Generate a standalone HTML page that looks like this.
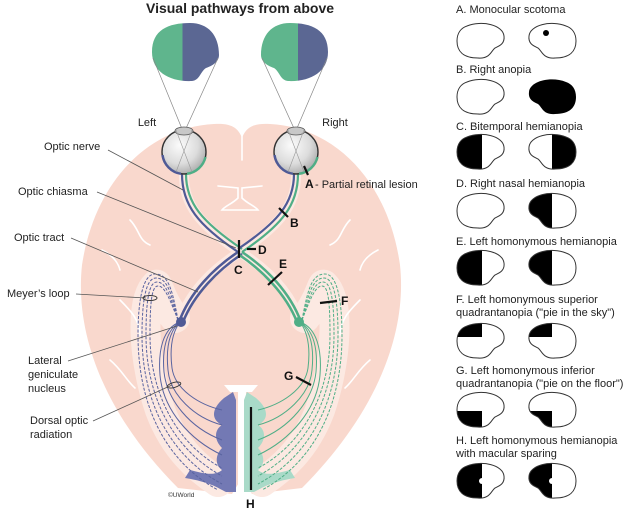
<!DOCTYPE html>
<html><head><meta charset="utf-8"><style>
html,body{margin:0;padding:0;background:#fff;}
svg{display:block;font-family:"Liberation Sans",Arial,sans-serif;}
</style></head><body>
<svg width="638" height="515" viewBox="0 0 638 515" xmlns="http://www.w3.org/2000/svg">
<defs>
<radialGradient id="eg" cx="0.4" cy="0.35" r="0.7"><stop offset="0" stop-color="#fbfbfb"/><stop offset="0.6" stop-color="#dcdcdc"/><stop offset="1" stop-color="#a9a9a9"/></radialGradient>
<path id="bean" d="M10,3 C25,-3 46,2 47,13 C48,21 42,23 38,25 C34,28 33,36 21,35 C6,35 0,28 0,18 C0,10 4,5 10,3 Z"/>
<clipPath id="cb"><use href="#bean"/></clipPath>
<clipPath id="cbm"><use href="#bean" transform="translate(48,0) scale(-1,1)"/></clipPath>
<g id="rad">
<g stroke-dasharray="3,1.5">
<path d="M178,320 C170,300 165,286 158,286 C152,286 150,300 150,335 C150,395 178,445 222,468"/>
<path d="M178,320 C170,296 166,282 157,282 C149,282 146,300 146,335 C146,398 174,450 222,476"/>
<path d="M178,320 C171,292 167,278 156,278 C146,278 142,300 142,335 C142,402 170,456 222,484"/>
<path d="M178,320 C172,288 168,274 155,274 C143,274 138,300 138,335 C138,406 166,462 218,490"/>
</g>
<path d="M180,322 C163,328 158,350 160,375 C163,410 190,440 222,455"/>
<path d="M180,322 C166,330 162,350 164,372 C167,400 190,428 222,440"/>
<path d="M180,322 C168,332 166,350 168,370 C170,395 195,418 222,425"/>
<path d="M180,322 C171,334 170,352 172,368 C175,390 200,405 222,410"/>
</g>
</defs>

<text x="240" y="13" font-size="14" font-weight="bold" text-anchor="middle" fill="#222">Visual pathways from above</text>

<path d="M242,138 C238,127 230,123 214,124 C150,127 95,180 82,265 C74,340 110,420 178,488 L232,494 L242,478 L252,494 L302,488 C370,420 408,340 400,265 C388,180 334,127 270,124 C254,123 246,127 242,138 Z" fill="#f9d8cd"/>
<g fill="none" stroke="#fce9e2" stroke-linecap="round">
<path d="M175,318 C160,300 158,282 156,285 C140,300 143,360 160,410 C175,450 200,470 218,482" stroke-width="30"/>
<path d="M305,318 C320,300 322,282 324,285 C340,300 337,360 320,410 C305,450 280,470 262,482" stroke-width="30"/>
<path d="M184,176 C184,205 200,225 240,252 C280,225 296,205 296,176" stroke-width="10"/>
<path d="M240,252 C215,268 190,290 180,322 M240,252 C265,268 290,290 300,322" stroke-width="10"/>
</g>
<g fill="none" stroke="#fff" stroke-width="1.6" stroke-linecap="round">
<path d="M242,126 L242,160"/>
<path d="M218,186 L238,188 L238,198 C232,204 225,206 222,210 L258,210 C255,206 248,204 242,198 L242,188 L262,186"/>
<path d="M130,220 C140,230 138,240 150,245 M120,300 C130,310 140,320 140,335 M110,360 C122,370 126,380 135,388 M102,250 C112,255 118,262 120,270"/>
<path d="M350,220 C340,230 342,240 330,245 M360,300 C350,310 340,320 340,335 M370,360 C358,370 354,380 345,388 M378,250 C368,255 362,262 360,270"/>
</g>
<path d="M224,385 L258,385 L252,392 L246,392 L246,490 L238,490 L238,392 L230,392 Z" fill="#fff"/>

<path d="M224,398 L233,392 L236,400 L236,492 L226,492 C218,488 210,482 185,478 L190,470 C205,474 215,476 222,470 C215,465 215,455 222,448 C214,440 214,430 222,425 C212,420 210,410 224,398 Z" fill="#7379b4"/>
<path d="M256,398 L247,392 L244,400 L244,492 L254,492 C262,488 270,482 295,478 L290,470 C275,474 265,476 258,470 C265,465 265,455 258,448 C266,440 266,430 258,425 C268,420 270,410 256,398 Z" fill="#a9dac8"/>

<g fill="none" stroke="#5a64a0" stroke-width="1"><use href="#rad"/></g>
<g fill="none" stroke="#4fae86" stroke-width="1" transform="translate(480,0) scale(-1,1)"><use href="#rad"/></g>

<g fill="none" stroke-width="2.2">
<path d="M182,174 C182,205 198,225 238,252" stroke="#4f5a96"/>
<path d="M186,174 C186,203 202,222 242,249" stroke="#4fae86"/>
<path d="M298,174 C298,205 282,225 242,252" stroke="#4fae86"/>
<path d="M294,174 C294,203 278,222 238,249" stroke="#4f5a96"/>
<path d="M238,252 C214,268 190,292 179,322" stroke="#4f5a96" stroke-width="2.5"/>
<path d="M242,254 C218,270 194,294 183,322" stroke="#4f5a96" stroke-width="2.5"/>
<path d="M242,252 C266,268 290,292 301,322" stroke="#4fae86" stroke-width="2.5"/>
<path d="M238,254 C262,270 286,294 297,322" stroke="#4fae86" stroke-width="2.5"/>
</g>
<circle cx="181" cy="322" r="5" fill="#4f5a96"/>
<circle cx="299" cy="322" r="5" fill="#4fae86"/>

<g>
<clipPath id="lf"><path d="M152,52 C152,30 168,23 190,23 C208,23 219,35 219,55 C219,62 212,66 206,68 C200,72 200,80 192,81 C170,82 152,72 152,52 Z"/></clipPath>
<g clip-path="url(#lf)"><rect x="150" y="20" width="32.5" height="65" fill="#5fb58d"/><rect x="182.5" y="20" width="40" height="65" fill="#5b6793"/></g>
<clipPath id="rf"><path d="M328,52 C328,30 312,23 290,23 C272,23 261,35 261,55 C261,62 268,66 274,68 C280,72 280,80 288,81 C310,82 328,72 328,52 Z"/></clipPath>
<g clip-path="url(#rf)"><rect x="258" y="20" width="40" height="65" fill="#5fb58d"/><rect x="298" y="20" width="35" height="65" fill="#5b6793"/></g>
</g>
<g stroke="#888" stroke-width="0.7" fill="none">
<path d="M153,58 L198,168 M218,58 L168,168"/>
<path d="M262,58 L312,168 M327,58 L280,168"/>
</g>

<g>
<circle cx="184" cy="152" r="22" fill="url(#eg)" stroke="#333" stroke-width="1.4"/>
<ellipse cx="184" cy="131" rx="9" ry="4" fill="#c8c8c8" stroke="#555" stroke-width="0.8"/>
<path d="M162.5,155 A22,22 0 0,0 181,173.8" stroke="#4f5a96" stroke-width="2.5" fill="none"/>
<path d="M187,173.8 A22,22 0 0,0 205.5,157" stroke="#4fae86" stroke-width="2.5" fill="none"/>
<circle cx="296" cy="152" r="22" fill="url(#eg)" stroke="#333" stroke-width="1.4"/>
<ellipse cx="296" cy="131" rx="9" ry="4" fill="#c8c8c8" stroke="#555" stroke-width="0.8"/>
<path d="M274.5,155 A22,22 0 0,0 293,173.8" stroke="#4f5a96" stroke-width="2.5" fill="none"/>
<path d="M299,173.8 A22,22 0 0,0 317.5,157" stroke="#4fae86" stroke-width="2.5" fill="none"/>
<g stroke="#999" stroke-width="0.6"><path d="M176,130 L192,172 M192,130 L176,172 M288,130 L304,172 M304,130 L288,172"/></g>
</g>
<text x="147" y="126" font-size="11" text-anchor="middle" fill="#222">Left</text>
<text x="335" y="126" font-size="11" text-anchor="middle" fill="#222">Right</text>

<g stroke="#555" stroke-width="0.8" fill="none">
<path d="M108,150 L183,190"/>
<path d="M97,192 L236,248"/>
<path d="M71,238 L198,292"/>
<path d="M76,294 L146,298"/>
<path d="M68,361 L177,326"/>
<path d="M93,421 L172,385"/>
</g>
<ellipse cx="150" cy="298" rx="7" ry="2.5" fill="none" stroke="#333" stroke-width="0.9"/>
<ellipse cx="174" cy="385" rx="7" ry="2.5" fill="none" stroke="#333" stroke-width="0.9" transform="rotate(-15 174 385)"/>
<g font-size="11" fill="#222">
<text x="44" y="150">Optic nerve</text>
<text x="18" y="195">Optic chiasma</text>
<text x="14" y="241">Optic tract</text>
<text x="7" y="297">Meyer’s loop</text>
<text x="28" y="364">Lateral</text>
<text x="28" y="378">geniculate</text>
<text x="28" y="392">nucleus</text>
<text x="30" y="424">Dorsal optic</text>
<text x="30" y="438">radiation</text>
</g>
<text x="168" y="497" font-size="6.5" fill="#333">©UWorld</text>

<g stroke="#111" stroke-width="2.2">
<path d="M304,166 L308,175"/>
<path d="M279,208 L288,217"/>
<path d="M239,240 L239,258"/>
<path d="M247,249 L256,249"/>
<path d="M268,285 L282,272"/>
<path d="M320,303 L337,301"/>
<path d="M296,377 L311,385"/>
<path d="M251,407 L251,490"/>
</g>
<g font-size="12" font-weight="bold" fill="#111">
<text x="305" y="188">A</text>
<text x="290" y="227">B</text>
<text x="234" y="274">C</text>
<text x="258" y="254">D</text>
<text x="279" y="268">E</text>
<text x="341" y="305">F</text>
<text x="284" y="380">G</text>
<text x="246" y="508">H</text>
</g>
<text x="315" y="188" font-size="11" fill="#222">- Partial retinal lesion</text>

<g font-size="11" fill="#222">
<text x="456" y="13">A. Monocular scotoma</text>
<text x="456" y="73">B. Right anopia</text>
<text x="456" y="130">C. Bitemporal hemianopia</text>
<text x="456" y="187">D. Right nasal hemianopia</text>
<text x="456" y="245">E. Left homonymous hemianopia</text>
<text x="456" y="303">F. Left homonymous superior</text>
<text x="456" y="316">quadrantanopia ("pie in the sky")</text>
<text x="456" y="374">G. Left homonymous inferior</text>
<text x="456" y="387">quadrantanopia ("pie on the floor")</text>
<text x="456" y="444">H. Left homonymous hemianopia</text>
<text x="456" y="457">with macular sparing</text>
</g>

<g transform="translate(457,23)"><use href="#bean" fill="#fff" stroke="#333" stroke-width="1"/></g>
<g transform="translate(528,23)"><use href="#bean" transform="translate(48,0) scale(-1,1)" fill="#fff" stroke="#333" stroke-width="1"/><circle cx="18" cy="10" r="3" fill="#000"/></g>
<g transform="translate(457,79)"><use href="#bean" fill="#fff" stroke="#333" stroke-width="1"/></g>
<g transform="translate(528,79)"><use href="#bean" transform="translate(48,0) scale(-1,1)" fill="#000"/></g>
<g transform="translate(457,134)"><g clip-path="url(#cb)"><rect x="0" y="0" width="25" height="40" fill="#000"/></g><use href="#bean" fill="none" stroke="#333" stroke-width="1"/></g>
<g transform="translate(528,134)"><g clip-path="url(#cbm)"><rect x="24" y="0" width="26" height="40" fill="#000"/></g><use href="#bean" transform="translate(48,0) scale(-1,1)" fill="none" stroke="#333" stroke-width="1"/></g>
<g transform="translate(457,193)"><use href="#bean" fill="#fff" stroke="#333" stroke-width="1"/></g>
<g transform="translate(528,193)"><g clip-path="url(#cbm)"><rect x="0" y="0" width="24" height="40" fill="#000"/></g><use href="#bean" transform="translate(48,0) scale(-1,1)" fill="none" stroke="#333" stroke-width="1"/></g>
<g transform="translate(457,250)"><g clip-path="url(#cb)"><rect x="0" y="0" width="25" height="40" fill="#000"/></g><use href="#bean" fill="none" stroke="#333" stroke-width="1"/></g>
<g transform="translate(528,250)"><g clip-path="url(#cbm)"><rect x="0" y="0" width="24" height="40" fill="#000"/></g><use href="#bean" transform="translate(48,0) scale(-1,1)" fill="none" stroke="#333" stroke-width="1"/></g>
<g transform="translate(457,323)"><g clip-path="url(#cb)"><rect x="0" y="0" width="25" height="14" fill="#000"/></g><use href="#bean" fill="none" stroke="#333" stroke-width="1"/></g>
<g transform="translate(528,323)"><g clip-path="url(#cbm)"><rect x="0" y="0" width="24" height="14" fill="#000"/></g><use href="#bean" transform="translate(48,0) scale(-1,1)" fill="none" stroke="#333" stroke-width="1"/></g>
<g transform="translate(457,392)"><g clip-path="url(#cb)"><rect x="0" y="19" width="25" height="20" fill="#000"/></g><use href="#bean" fill="none" stroke="#333" stroke-width="1"/></g>
<g transform="translate(528,392)"><g clip-path="url(#cbm)"><rect x="0" y="19" width="24" height="20" fill="#000"/></g><use href="#bean" transform="translate(48,0) scale(-1,1)" fill="none" stroke="#333" stroke-width="1"/></g>
<g transform="translate(457,463)"><g clip-path="url(#cb)"><rect x="0" y="0" width="25" height="40" fill="#000"/></g><circle cx="25" cy="18" r="3" fill="#fff"/><use href="#bean" fill="none" stroke="#333" stroke-width="1"/></g>
<g transform="translate(528,463)"><g clip-path="url(#cbm)"><rect x="0" y="0" width="24" height="40" fill="#000"/></g><circle cx="24" cy="18" r="3" fill="#fff"/><use href="#bean" transform="translate(48,0) scale(-1,1)" fill="none" stroke="#333" stroke-width="1"/></g>
</svg>
</body></html>
